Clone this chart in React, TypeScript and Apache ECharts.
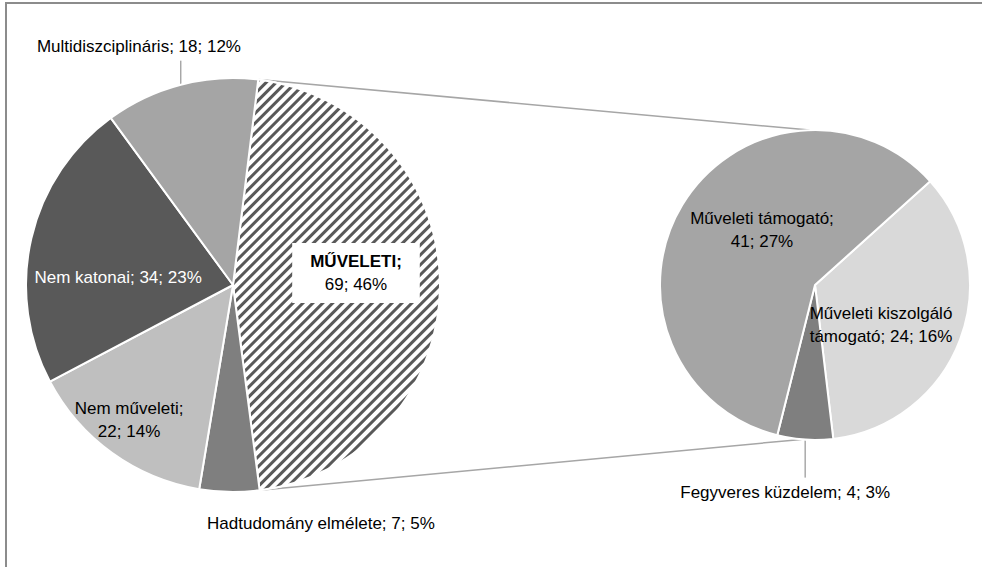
import React, { useEffect, useRef } from 'react';
import * as echarts from 'echarts';

// ---- data ----
const mainNames = ['MŰVELETI', 'Hadtudomány elmélete', 'Nem műveleti', 'Nem katonai', 'Multidiszciplináris'];
const mainValues = [69, 7, 22, 34, 18];
const mainPercents = [46, 5, 14, 23, 12];

const subNames = ['Műveleti kiszolgáló támogató', 'Fegyveres küzdelem', 'Műveleti támogató'];
const subValues = [24, 4, 41];
const subPercents = [16, 3, 27];

// ---- styling / layout ----
const FONT = "'Liberation Sans Narrow', 'Arial Narrow', 'Liberation Sans', Arial, sans-serif";
const MAIN = { cx: 233, cy: 285, r: 207, start: 7 };
const SUB = { cx: 815, cy: 285, r: 155, start: 48 };

const mainColors = ['#ffffff', '#7f7f7f', '#bfbfbf', '#595959', '#a5a5a5'];
const subColors = ['#d9d9d9', '#7f7f7f', '#a5a5a5'];
const mainTextColors = ['#000', '#000', '#000', '#fff', '#000'];
const subTextColors = ['#000', '#000', '#000'];

// label placement: [clock angle (deg), fraction of radius]
const mainLabelPlace = [[84.4, 0.597], [159.8, 1.23], [217.6, 0.823], [273.5, 0.556], [338.5, 1.24]];
const subLabelPlace = [[121.2, 0.498], [188.2, 1.35], [316.1, 0.493]];
const mainLeader = [false, false, false, false, true];
const subLeader = [false, true, false];
const mainWrap: (number | null)[] = [1, null, 2, null, null];
const subWrap: (number | null)[] = [2, null, 2];

type PieGeo = { cx: number; cy: number; r: number; start: number };

function polar(g: PieGeo, angleDeg: number, rr: number): [number, number] {
  const a = (angleDeg * Math.PI) / 180;
  return [g.cx + rr * Math.sin(a), g.cy - rr * Math.cos(a)];
}

function labelText(name: string, v: number, p: number, wrap: number | null, bold: boolean): string {
  const words = name.split(' ');
  if (bold) return `{b|${name};}\n{n|${v}; ${p}%}`;
  if (wrap == null) return `${name}; ${v}; ${p}%`;
  if (wrap >= words.length) return `${name};\n${v}; ${p}%`;
  return words.slice(0, wrap).join(' ') + '\n' + words.slice(wrap).join(' ') + `; ${v}; ${p}%`;
}

function midAngles(g: PieGeo, values: number[]): number[] {
  const total = values.reduce((s, v) => s + v, 0);
  let acc = g.start;
  return values.map((v) => {
    const span = (v / total) * 360;
    const m = acc + span / 2;
    acc += span;
    return m;
  });
}

function makeLayout(g: PieGeo, place: number[][], leader: boolean[], values: number[]) {
  const mids = midAngles(g, values);
  return (params: any) => {
    const i = params.dataIndex;
    const [x, y] = polar(g, place[i][0], place[i][1] * g.r);
    const res: any = { x, y, align: 'center', verticalAlign: 'middle' };
    if (leader[i]) {
      const [ex, ey] = polar(g, mids[i], g.r);
      const h = params.labelRect ? params.labelRect.height : 22;
      const endY = y < ey ? y + h / 2 + 3 : y - h / 2 - 3;
      res.labelLinePoints = [[ex, ey], [ex, endY]];
    }
    return res;
  };
}

export default function App() {
  const ref = useRef<HTMLDivElement>(null);
  useEffect(() => {
    document.body.style.margin = '0';
    if (!ref.current) return;
    const chart = echarts.init(ref.current, undefined, { renderer: 'svg' });

    const mainTotal = mainValues.reduce((s, v) => s + v, 0);
    const hatchEnd = MAIN.start + (mainValues[0] / mainTotal) * 360;
    const p1 = polar(MAIN, MAIN.start, MAIN.r);
    const p2 = polar(MAIN, hatchEnd, MAIN.r);
    const q1 = polar(SUB, -2, SUB.r);
    const q2 = polar(SUB, 185, SUB.r);

    const baseLabel = { fontFamily: FONT, fontSize: 17, lineHeight: 23 };

    const option: any = {
      animation: false,
      backgroundColor: '#ffffff',
      graphic: [
        { type: 'line', shape: { x1: p1[0], y1: p1[1], x2: q1[0], y2: q1[1] }, style: { stroke: '#a6a6a6', lineWidth: 1.5 }, z: 0 },
        { type: 'line', shape: { x1: p2[0], y1: p2[1], x2: q2[0], y2: q2[1] }, style: { stroke: '#a6a6a6', lineWidth: 1.5 }, z: 0 },
        { type: 'polyline', shape: { points: [[6, 567], [6, 3], [982, 3]] }, style: { stroke: '#8c8c8c', lineWidth: 2, fill: null } },
      ],
      series: [
        {
          type: 'pie',
          center: [MAIN.cx, MAIN.cy],
          radius: MAIN.r,
          startAngle: 90 - MAIN.start,
          clockwise: true,
          avoidLabelOverlap: false,
          emphasis: { disabled: true },
          itemStyle: { borderColor: '#ffffff', borderWidth: 2 },
          label: { show: true, position: 'outside', ...baseLabel, color: '#000' },
          labelLine: { show: false, lineStyle: { color: '#7f7f7f', width: 1 } },
          labelLayout: makeLayout(MAIN, mainLabelPlace, mainLeader, mainValues),
          data: mainNames.map((n, i) => ({
            name: n,
            value: mainValues[i],
            itemStyle: {
              color: mainColors[i],
              ...(i === 0
                ? {
                    decal: {
                      symbol: 'rect',
                      symbolSize: 1,
                      color: '#595959',
                      dashArrayX: [1, 0],
                      dashArrayY: [3, 4],
                      rotation: -Math.PI / 4,
                    },
                  }
                : {}),
            },
            label: {
              formatter: labelText(n, mainValues[i], mainPercents[i], mainWrap[i], i === 0),
              color: mainTextColors[i],
              ...(i === 0
                ? {
                    backgroundColor: '#ffffff',
                    padding: [7, 18, 7, 18],
                    rich: {
                      b: { ...baseLabel, fontWeight: 'bold', color: '#000' },
                      n: { ...baseLabel, color: '#000' },
                    },
                  }
                : {}),
            },
            labelLine: { show: mainLeader[i] },
          })),
        },
        {
          type: 'pie',
          center: [SUB.cx, SUB.cy],
          radius: SUB.r,
          startAngle: 90 - SUB.start,
          clockwise: true,
          avoidLabelOverlap: false,
          emphasis: { disabled: true },
          itemStyle: { borderColor: '#ffffff', borderWidth: 2 },
          label: { show: true, position: 'outside', ...baseLabel, color: '#000' },
          labelLine: { show: false, lineStyle: { color: '#7f7f7f', width: 1 } },
          labelLayout: makeLayout(SUB, subLabelPlace, subLeader, subValues),
          data: subNames.map((n, i) => ({
            name: n,
            value: subValues[i],
            itemStyle: { color: subColors[i] },
            label: {
              formatter: labelText(n, subValues[i], subPercents[i], subWrap[i], false),
              color: subTextColors[i],
            },
            labelLine: { show: subLeader[i] },
          })),
        },
      ],
    };
    chart.setOption(option);
    return () => chart.dispose();
  }, []);
  return <div ref={ref} style={{ width: 982, height: 567 }} />;
}
